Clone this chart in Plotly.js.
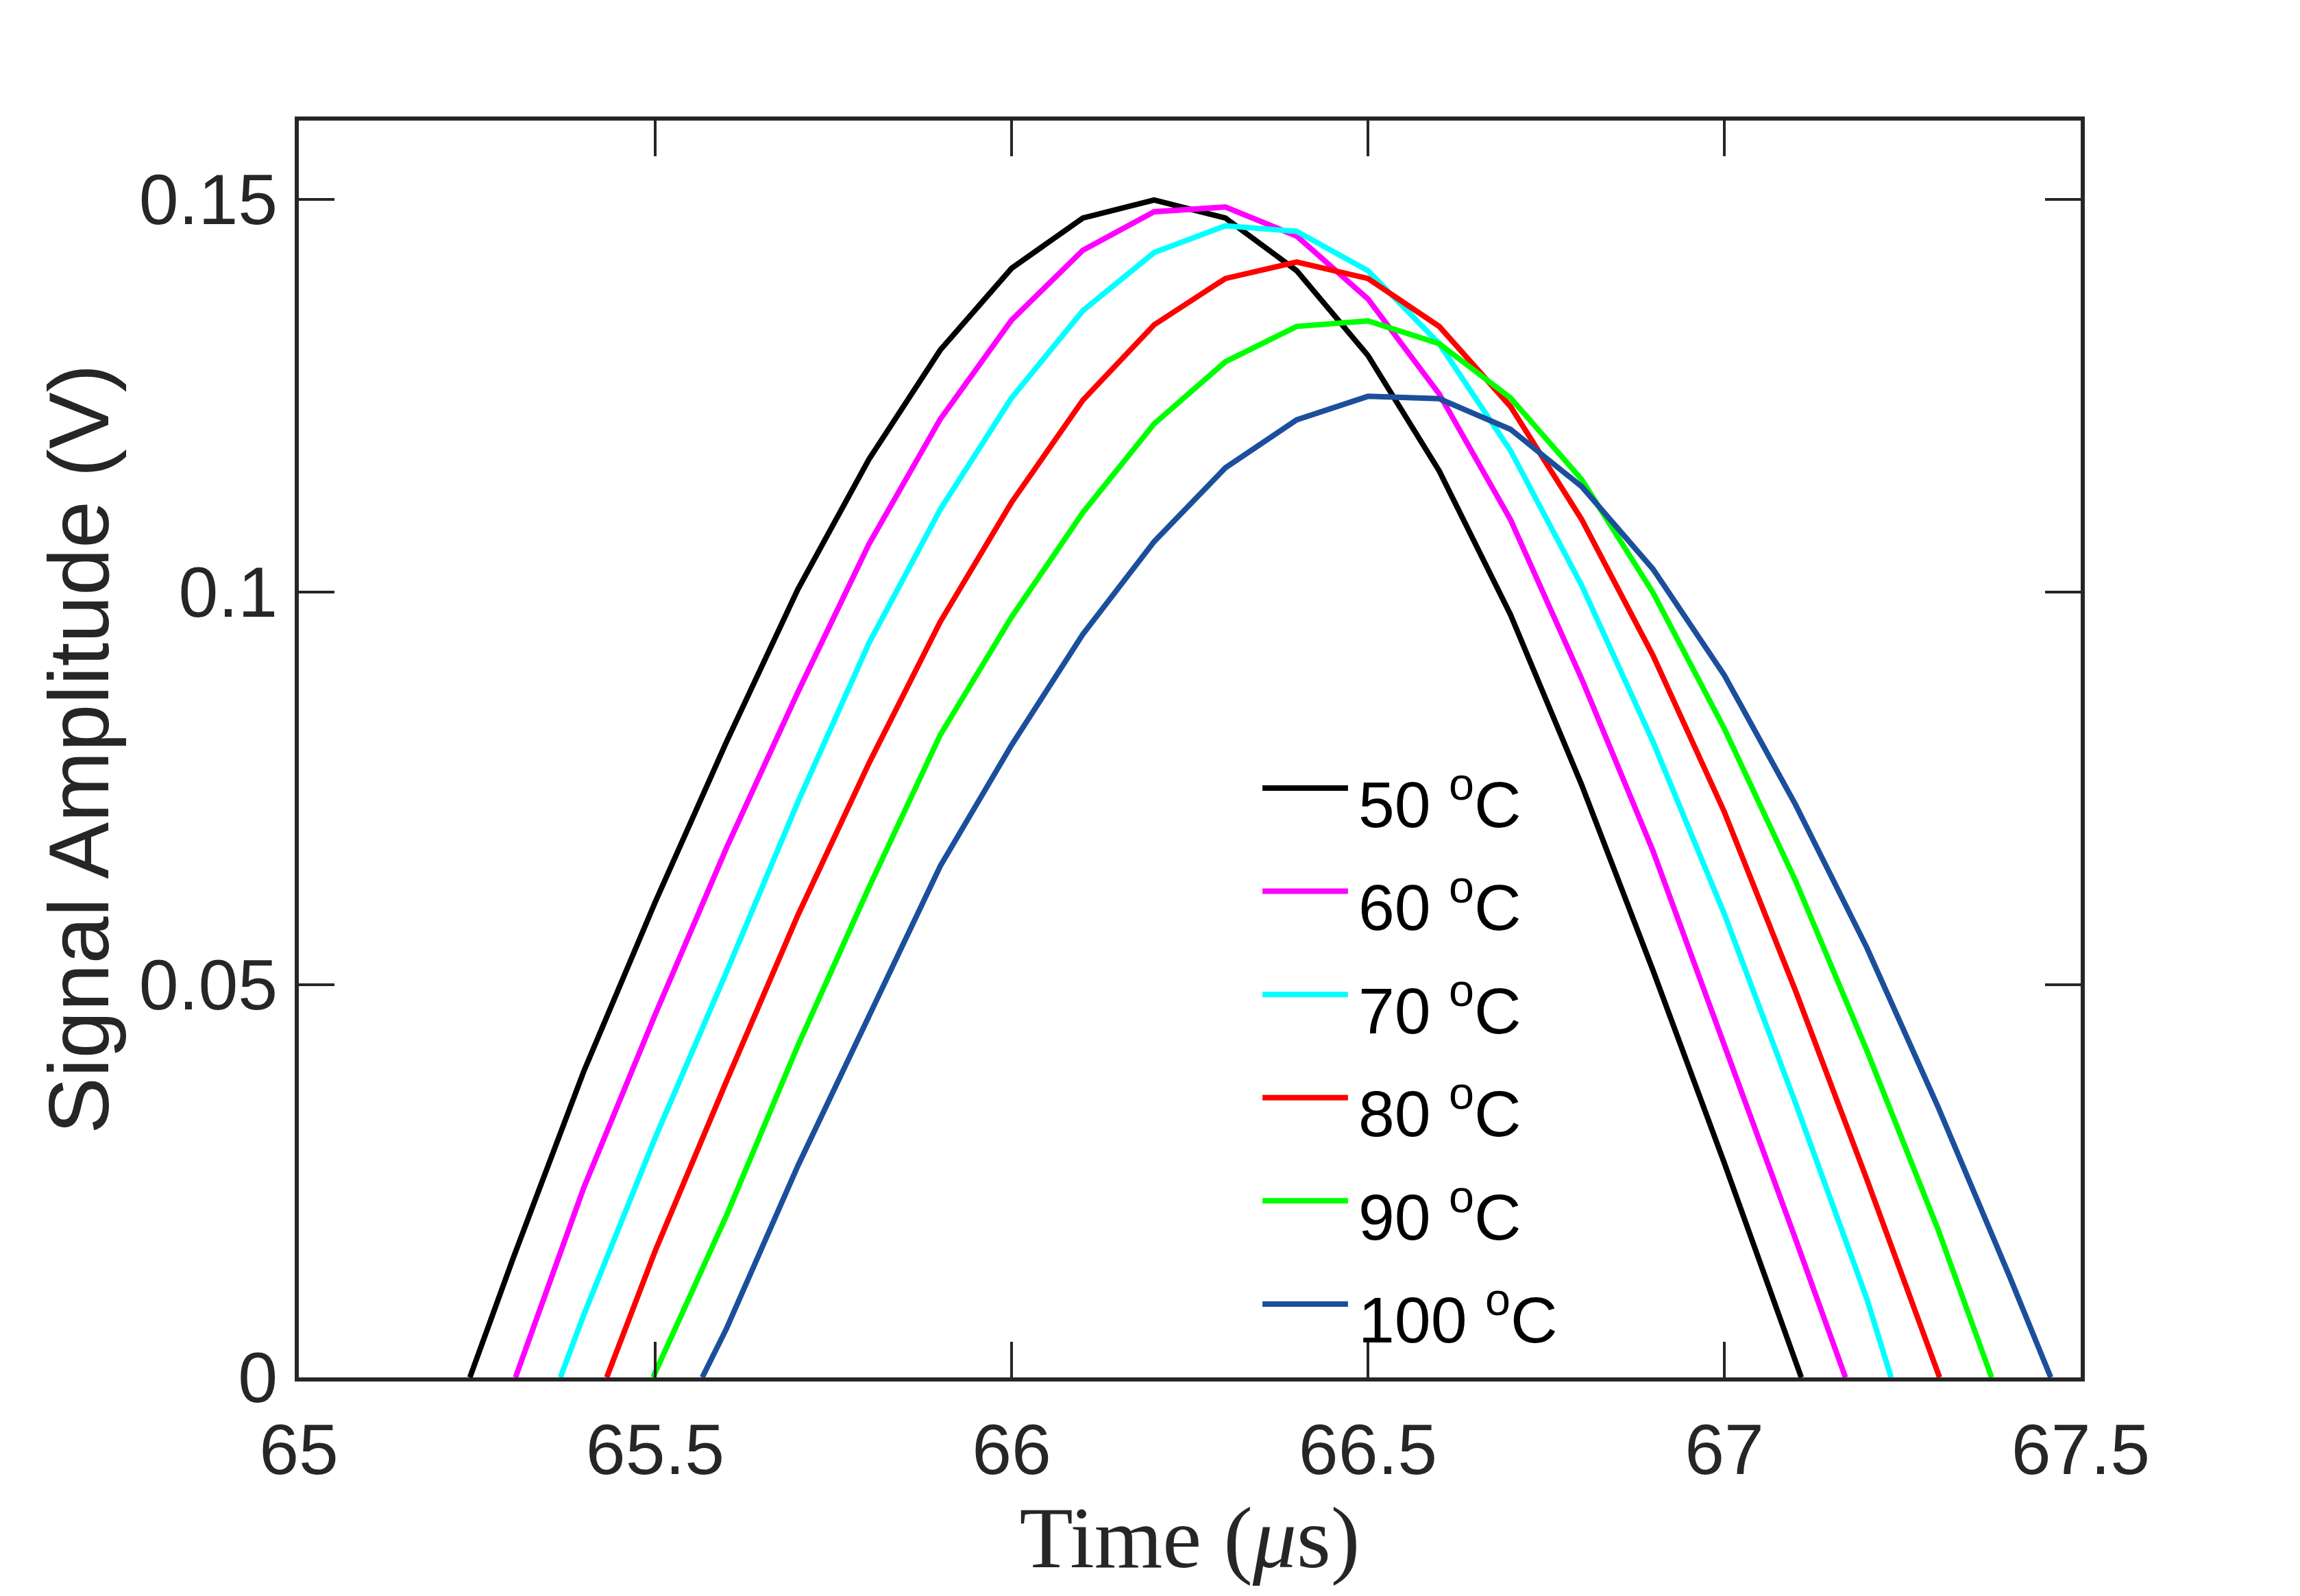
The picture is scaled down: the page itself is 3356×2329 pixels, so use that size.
<!DOCTYPE html>
<html>
<head>
<meta charset="utf-8">
<script src="https://cdn.plot.ly/plotly-3.0.1.min.js"></script>
<style>
  html, body { margin: 0; padding: 0; background: #ffffff; }
  #my_plot { width: 3356px; height: 2329px; }
</style>
</head>
<body>
<div id="my_plot"></div>
<script>

/////////////////////   Data   /////////////////////

var names = ['50', '60', '70', '80', '90', '100'];   // temperature, degC
var colors = ['#000000', '#ff00ff', '#00ffff', '#ff0000', '#00ff00', '#1b4f9c'];

// time in us, amplitude in V ; first/last points are where the trace meets 0
var t50  = [65.24, 65.3, 65.4, 65.5, 65.6, 65.7, 65.8, 65.9, 66.0, 66.1, 66.2, 66.3, 66.4, 66.5, 66.6, 66.7, 66.8, 66.9, 67.0, 67.1, 67.108];
var v50  = [0, 0.0150, 0.0390, 0.0605, 0.0809, 0.1003, 0.1169, 0.1308, 0.1412, 0.1476, 0.1499, 0.1476, 0.1409, 0.1301, 0.1154, 0.0971, 0.0754, 0.0518, 0.0273, 0.0020, 0];

var t60  = [65.304, 65.4, 65.5, 65.6, 65.7, 65.8, 65.9, 66.0, 66.1, 66.2, 66.3, 66.4, 66.5, 66.6, 66.7, 66.8, 66.9, 67.0, 67.1, 67.17];
var v60  = [0, 0.0242, 0.0462, 0.0674, 0.0872, 0.1061, 0.1220, 0.1346, 0.1435, 0.1484, 0.1490, 0.1453, 0.1373, 0.1252, 0.1092, 0.0889, 0.0670, 0.0425, 0.0176, 0];

var t70  = [65.367, 65.4, 65.5, 65.6, 65.7, 65.8, 65.9, 66.0, 66.1, 66.2, 66.3, 66.4, 66.5, 66.6, 66.7, 66.8, 66.9, 67.0, 67.1, 67.2, 67.234];
var v70  = [0, 0.0080, 0.0305, 0.0516, 0.0732, 0.0935, 0.1105, 0.1247, 0.1358, 0.1432, 0.1466, 0.1459, 0.1409, 0.1316, 0.1180, 0.1008, 0.0809, 0.0590, 0.0349, 0.0100, 0];

var t80  = [65.432, 65.5, 65.6, 65.7, 65.8, 65.9, 66.0, 66.1, 66.2, 66.3, 66.4, 66.5, 66.6, 66.7, 66.8, 66.9, 67.0, 67.1, 67.2, 67.302];
var v80  = [0, 0.0161, 0.0377, 0.0588, 0.0782, 0.0962, 0.1114, 0.1244, 0.1340, 0.1399, 0.1420, 0.1399, 0.1338, 0.1236, 0.1092, 0.0919, 0.0720, 0.0492, 0.0252, 0];

var t90  = [65.497, 65.6, 65.7, 65.8, 65.9, 66.0, 66.1, 66.2, 66.3, 66.4, 66.5, 66.6, 66.7, 66.8, 66.9, 67.0, 67.1, 67.2, 67.3, 67.375];
var v90  = [0, 0.0206, 0.0422, 0.0624, 0.0818, 0.0968, 0.1101, 0.1214, 0.1293, 0.1338, 0.1345, 0.1316, 0.1247, 0.1143, 0.0999, 0.0826, 0.0632, 0.0416, 0.0188, 0];

var t100 = [65.566, 65.6, 65.7, 65.8, 65.9, 66.0, 66.1, 66.2, 66.3, 66.4, 66.5, 66.6, 66.7, 66.8, 66.9, 67.0, 67.1, 67.2, 67.3, 67.4, 67.458];
var v100 = [0, 0.0062, 0.0269, 0.0462, 0.0651, 0.0805, 0.0946, 0.1064, 0.1158, 0.1219, 0.1249, 0.1246, 0.1207, 0.1134, 0.1029, 0.0894, 0.0729, 0.0547, 0.0344, 0.0129, 0];

var xs = [t50, t60, t70, t80, t90, t100];
var ys = [v50, v60, v70, v80, v90, v100];

//////////////////////////////////////////////////////////////

var axis_col = '#262626';
var data = [];
var shapes = [];
var annotations = [];

for (var i = 0; i < names.length; i++) {
  data.push({
    x: xs[i],
    y: ys[i],
    mode: 'lines',
    name: names[i] + ' oC',
    line: {color: colors[i], width: 8},
    type: 'scatter'
  });

  // hand-made legend, MATLAB style long line samples
  var ly = 0.4689 - i * 0.0821;
  shapes.push({
    type: 'line', xref: 'paper', yref: 'paper',
    x0: 0.5408, x1: 0.5888, y0: ly, y1: ly,
    line: {color: colors[i], width: 8}
  });
  annotations.push({
    xref: 'paper', yref: 'paper',
    x: 0.5938, y: ly - 0.009,
    xanchor: 'left', yanchor: 'middle',
    showarrow: false,
    text: names[i] + ' <sup>o</sup>C',
    font: {family: 'Liberation Sans, Arial, sans-serif', size: 95, color: '#000000'}
  });
}

var tick_font = {family: 'Liberation Sans, Arial, sans-serif', size: 104, color: axis_col};

var layout = {
  showlegend: false,
  autosize: false,
  width: 3356,
  height: 2329,
  margin: {l: 436, r: 320, t: 176, b: 319, pad: 0},
  paper_bgcolor: '#ffffff',
  plot_bgcolor: '#ffffff',
  xaxis: {
    range: [65, 67.5],
    tickvals: [65, 65.5, 66, 66.5, 67, 67.5],
    ticktext: ['65', '65.5', '66', '66.5', '67', '67.5'],
    ticks: 'inside',
    ticklen: 52,
    tickwidth: 4,
    tickcolor: axis_col,
    showline: true,
    linewidth: 6,
    linecolor: axis_col,
    mirror: 'ticks',
    showgrid: false,
    zeroline: false,
    tickfont: tick_font,
    ticklabelstandoff: 10,
    title: {
      text: 'Time (<i>μ</i>s)',
      font: {family: 'Liberation Serif, Times New Roman, serif', size: 128, color: axis_col},
      standoff: 20
    }
  },
  yaxis: {
    range: [0, 0.16],
    tickvals: [0, 0.05, 0.1, 0.15],
    ticktext: ['0', '0.05', '0.1', '0.15'],
    ticks: 'inside',
    ticklen: 52,
    tickwidth: 4,
    tickcolor: axis_col,
    showline: true,
    linewidth: 6,
    linecolor: axis_col,
    mirror: 'ticks',
    showgrid: false,
    zeroline: false,
    tickfont: tick_font,
    ticklabelstandoff: 4,
    title: {
      text: 'Signal Amplitude (V)',
      font: {family: 'Liberation Sans, Arial, sans-serif', size: 124, color: axis_col},
      standoff: 4
    }
  },
  shapes: shapes,
  annotations: annotations
};

Plotly.newPlot('my_plot', data, layout, {displayModeBar: false});
</script>
</body>
</html>
